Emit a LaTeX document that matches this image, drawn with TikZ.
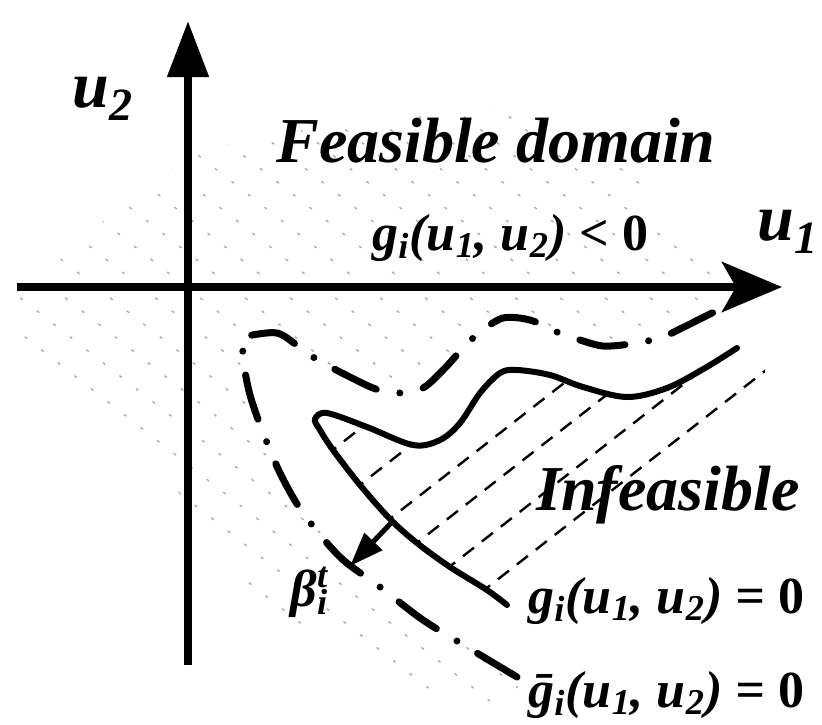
\documentclass[tikz,border=0pt]{standalone}
\usepackage{fontspec}
\setmainfont{Liberation Serif}
\usetikzlibrary{arrows.meta}
\definecolor{inkcolor}{HTML}{000000}
\definecolor{faintcolor}{HTML}{ABABAB}
\newcommand{\uarg}{(u\textsubscript{1}, u\textsubscript{2})}
\tikzset{
  axisline/.style={
    line width=4pt,
    color=inkcolor
  },
  vaxis/.style={
    axisline,
    -{Triangle[length=28pt, width=20pt]}
  },
  haxis/.style={
    axisline,
    -{Stealth[length=30pt, width=25pt, inset=7pt]}
  },
  gline/.style={
    line width=3pt,
    color=inkcolor,
    line cap=round
  },
  gbarline/.style={
    line width=3.5pt,
    color=inkcolor,
    line cap=round,
    line join=miter,
    dash pattern=on 23pt off 12pt on 0.01pt off 12pt
  },
  hatchline/.style={
    line width=1.2pt,
    color=inkcolor,
    dash pattern=on 7pt off 5pt
  },
  feashatch/.style={
    line width=0.7pt,
    color=faintcolor,
    dash pattern=on 1.5pt off 9pt
  },
  betaarrow/.style={
    -{Triangle[length=17pt, width=12pt]},
    line width=2.5pt,
    color=inkcolor
  },
  axislbl/.style={
    font=\fontsize{33}{36}\selectfont\bfseries\itshape,
    inner sep=0pt
  },
  regionlbl/.style={
    font=\fontsize{32}{36}\selectfont\bfseries\itshape,
    inner sep=0pt
  },
  eqlbl/.style={
    font=\fontsize{26}{30}\selectfont\bfseries\itshape,
    inner sep=0pt
  }
}
\begin{document}
\begin{tikzpicture}[x=0.5pt, y=-0.5pt]
  \useasboundingbox (0,0) rectangle (822,724);

  % ==================== FEASIBLE HATCHING ====================
  \begin{scope}
    \clip (15,300) -- (110,215) -- (200,150) -- (330,125) -- (500,105) -- (620,160) -- (700,250) -- (735,300) -- (710,314) -- (603,346) -- (503,318) -- (463,348) -- (398,393) -- (323,363) -- (242,337) -- (250,395) -- (280,473) -- (340,557) -- (423,620) -- (517,677) -- (520,705) -- (400,690) -- (250,590) -- (140,440) -- (15,345) -- cycle;
    \foreach \k in {-20,...,14}
      \draw [feashatch] (\k*45,0) -- ++(900,705);
  \end{scope}

  % ==================== INFEASIBLE HATCHING ====================
  \begin{scope}
    \clip plot[smooth, tension=0.55] coordinates {(507,605) (487,590) (450,567) (417,543) (390,519) (360,485) (333,450) (320,430) (315,419) (327,413) (367,427) (413,445) (440,440) (460,423) (480,393) (500,373) (517,370) (550,375) (583,387) (627,397) (667,388) (705,368) (737,348)} -- (765,335) -- (765,380) -- cycle;
    \foreach \p in {(333,450),(360,485),(390,519),(417,543),(452,565),(487,588)}
      \draw [hatchline] \p ++(-8,6) -- ++(500,-390);
  \end{scope}

  % ==================== CURVES ====================
  \draw [gline] plot[smooth, tension=0.55] coordinates {(507,605) (487,590) (450,567) (417,543) (390,519) (360,485) (333,450) (320,430) (315,419) (327,413) (367,427) (413,445) (440,440) (460,423) (480,393) (500,373) (517,370) (550,375) (583,387) (627,397) (667,388) (705,368) (737,348)};

  \draw [gbarline] plot[smooth] coordinates {(517,677) (467,647) (423,620) (380,587) (340,557) (303,513) (280,473) (262,430) (250,395) (244,365) (242,337)}
    -- plot[smooth] coordinates {(242,337) (277,333) (303,350) (323,363) (373,388) (398,393) (423,388) (445,368) (463,348) (480,332) (503,318) (530,320) (557,332) (580,340) (603,346) (630,344) (660,338) (682,328) (710,314) (740,300)};

  % ==================== AXES ====================
  \coordinate (ybot) at (188,665);
  \coordinate (ytop) at (188,21);
  \coordinate (xleft) at (17,287);
  \coordinate (xright) at (782,287);
  \draw [vaxis] (ybot) -- (ytop);
  \draw [haxis] (xleft) -- (xright);

  % Reliability index arrow
  \coordinate (bstart) at (392,522);
  \coordinate (btip) at (350,566);
  \draw [betaarrow] (bstart) -- (btip);

  % ==================== LABELS ====================
  \node (u2lbl) [axislbl, anchor=base west] at (72,107) {u\textsubscript{2}};
  \node (u1lbl) [axislbl, anchor=base west] at (757,240) {u\textsubscript{1}};
  \node (feas) [regionlbl, anchor=base west] at (276,162) {Feasible domain};
  \node (gless) [eqlbl, anchor=base west] at (372,250) {g\textsubscript{i}\uarg\ < {\upshape 0}};
  \node (infeas) [regionlbl, anchor=base west] at (536,510) {Infeasible};
  \node (geq) [eqlbl, anchor=base west] at (528,613) {g\textsubscript{i}\uarg\ = {\upshape 0}};
  \node (gbareq) [eqlbl, anchor=base west] at (528,707) {\={g}\textsubscript{i}\uarg\ = {\upshape 0}};
  \node (betalbl) [eqlbl, anchor=base west] at (290,606) {β\rlap{\textsuperscript{t}}\textsubscript{i}};

\end{tikzpicture}
\end{document}
